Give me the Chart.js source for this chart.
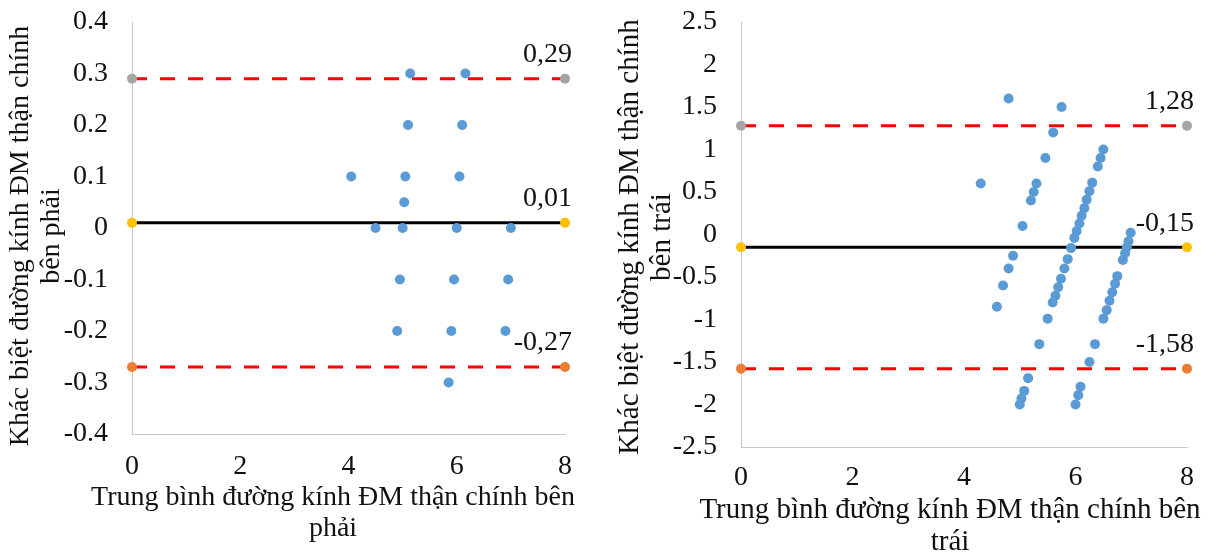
<!DOCTYPE html>
<html>
<head>
<meta charset="utf-8">
<script src="https://cdn.jsdelivr.net/npm/chart.js@4"></script>
<style>
  body { margin: 0; background: #fff; }
  .box { position: absolute; top: 0; }
</style>
</head>
<body>
<div class="box" style="left:0"><canvas id="leftChart" width="605" height="559"></canvas></div>
<div class="box" style="left:605px"><canvas id="rightChart" width="609" height="559"></canvas></div>
<script>
// right renal artery: mean of the two readings vs their difference
const leftAvg  = [5.14, 6.16, 5.1, 6.1, 4.05, 5.05, 6.05, 5.03, 4.5, 5.0, 6.0, 7.0, 4.95, 5.95, 6.95, 4.9, 5.9, 6.9, 5.85];
const leftDiff = [0.3, 0.3, 0.2, 0.2, 0.1, 0.1, 0.1, 0.05, 0, 0, 0, 0, -0.1, -0.1, -0.1, -0.2, -0.2, -0.2, -0.3];

// left renal artery
const rightAvg  = [4.3, 4.8,
  4.59, 4.7, 4.8, 4.88, 5.05, 5.2, 5.25, 5.3, 5.46, 5.6, 5.75,
  5.0, 5.03, 5.08, 5.15, 5.35, 5.5, 5.59, 5.64, 5.69, 5.74, 5.8, 5.86, 5.92, 5.98, 6.02, 6.07, 6.11, 6.16, 6.2, 6.25, 6.3, 6.4, 6.45, 6.5,
  6.0, 6.05, 6.09, 6.25, 6.35, 6.5, 6.56, 6.61, 6.66, 6.71, 6.75, 6.85, 6.89, 6.92, 6.95, 6.99];
const rightDiff = [0.6, 1.6,
  -0.85, -0.6, -0.4, -0.25, 0.1, 0.4, 0.5, 0.6, 0.9, 1.2, 1.5,
  -2.0, -1.93, -1.84, -1.69, -1.29, -0.99, -0.8, -0.72, -0.62, -0.52, -0.4, -0.29, -0.16, -0.04, 0.04, 0.13, 0.22, 0.31, 0.41, 0.51, 0.61, 0.8, 0.9, 1.0,
  -2.0, -1.89, -1.79, -1.5, -1.29, -0.99, -0.89, -0.78, -0.68, -0.58, -0.49, -0.3, -0.22, -0.15, -0.08, 0.02];

// upper limit, mean difference, lower limit
const leftLimits  = [0.29, 0.01, -0.27];
const rightLimits = [1.28, -0.15, -1.58];
const lineEnds = [0, 8];

const limitColors = ['#A5A5A5', '#FFC000', '#ED7D31'];
const FONT = '"Liberation Serif", "Times New Roman", serif';

const lineLabels = {
  id: 'lineLabels',
  afterDatasetsDraw(chart) {
    const ctx = chart.ctx;
    const xs = chart.scales.x, ys = chart.scales.y;
    ctx.save();
    ctx.font = '28px ' + FONT;
    ctx.fillStyle = '#111';
    ctx.textAlign = 'right';
    ctx.textBaseline = 'middle';
    chart.data.datasets.forEach(ds => {
      if (ds.labelValue === undefined) return;
      const last = ds.data[ds.data.length - 1];
      ctx.fillText(ds.labelValue.toFixed(2).replace('.', ','),
        xs.getPixelForValue(last.x) + 7, ys.getPixelForValue(last.y) - 24);
    });
    ctx.restore();
  }
};

const axisTitles = {
  id: 'axisTitles',
  afterDraw(chart, args, opts) {
    const ctx = chart.ctx;
    ctx.save();
    ctx.font = opts.size + 'px ' + FONT;
    ctx.fillStyle = '#111';
    ctx.textAlign = 'center';
    ctx.textBaseline = 'middle';
    opts.x.lines.forEach((t, i) => ctx.fillText(t, opts.x.cx, opts.x.cy + i * opts.gap));
    ctx.translate(opts.y.cx, opts.y.cy);
    ctx.rotate(-Math.PI / 2);
    opts.y.lines.forEach((t, i) => ctx.fillText(t, 0, i * opts.gap));
    ctx.restore();
  }
};

function limitLine(value, i) {
  return {
    type: 'line',
    data: lineEnds.map(x => ({ x: x, y: value })),
    labelValue: value,
    showLine: true,
    borderColor: i === 1 ? '#000000' : '#FF0000',
    borderWidth: 3,
    borderDash: i === 1 ? [] : [15, 13],
    pointRadius: 5,
    pointHoverRadius: 5,
    pointBorderWidth: 0,
    pointBackgroundColor: limitColors[i],
    clip: false,
  };
}

function makeChart(id, avg, diff, limits, y, box, titles) {
  return new Chart(document.getElementById(id), {
    type: 'scatter',
    data: {
      datasets: [{
        data: avg.map((a, i) => ({ x: a, y: diff[i] })),
        backgroundColor: '#5B9BD5',
        pointRadius: 5,
        pointBorderWidth: 0,
        clip: false,
      }].concat(limits.map(limitLine))
    },
    options: {
      responsive: false,
      animation: false,
      devicePixelRatio: 1,
      layout: { padding: { top: 22, right: box.right, bottom: 0, left: 0 } },
      scales: {
        x: {
          min: 0, max: 8,
          grid: { display: false, drawTicks: false },
          border: { color: '#C8C8C8', width: 1 },
          ticks: { stepSize: 2, padding: box.xPad, color: '#111', font: { family: FONT, size: 28 } },
          afterFit(scale) { scale.height = box.xHeight; }
        },
        y: {
          min: y.min, max: y.max,
          grid: { display: false, drawTicks: false },
          border: { color: '#C8C8C8', width: 1 },
          ticks: {
            stepSize: y.step, padding: 24, color: '#111', font: { family: FONT, size: 28 },
            callback: v => String(Math.round(v * 10) / 10)
          },
          afterFit(scale) {
            scale.width = box.yWidth;
            scale.paddingTop = 0;
            scale.paddingBottom = 0;
          }
        }
      },
      plugins: {
        legend: { display: false },
        tooltip: { enabled: false },
        axisTitles: titles
      }
    },
    plugins: [lineLabels, axisTitles]
  });
}

makeChart('leftChart', leftAvg, leftDiff, leftLimits,
  { min: -0.4, max: 0.4, step: 0.1 },
  { right: 40, yWidth: 132, xHeight: 125, xPad: 16 },
  {
    size: 28, gap: 31,
    x: { lines: ['Trung bình đường kính ĐM thận chính bên', 'phải'], cx: 333, cy: 498 },
    y: { lines: ['Khác biệt đường kính ĐM thận chính', 'bên phải'], cx: 21, cy: 236 }
  });

makeChart('rightChart', rightAvg, rightDiff, rightLimits,
  { min: -2.5, max: 2.5, step: 0.5 },
  { right: 27, yWidth: 136, xHeight: 112, xPad: 14 },
  {
    size: 29, gap: 32,
    x: { lines: ['Trung bình đường kính ĐM thận chính bên', 'trái'], cx: 345, cy: 510 },
    y: { lines: ['Khác biệt đường kính ĐM thận chính', 'bên trái'], cx: 25, cy: 237 }
  });
</script>
</body>
</html>
